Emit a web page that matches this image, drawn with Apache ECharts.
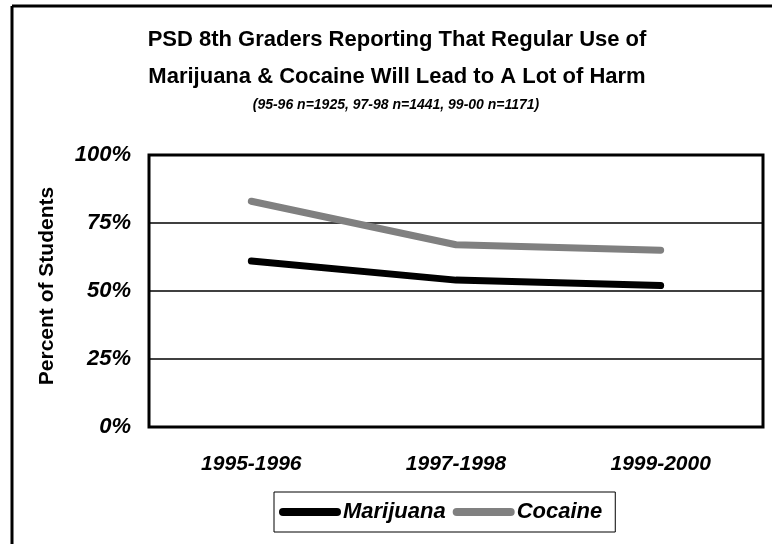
<!DOCTYPE html>
<html><head><meta charset="utf-8">
<script src="https://cdn.jsdelivr.net/npm/echarts@6/dist/echarts.min.js"></script>
<style>html,body{margin:0;padding:0;background:#fff}#c{width:772px;height:544px}</style>
</head><body><div id="c"></div>
<script>
const categories = ['1995-1996', '1997-1998', '1999-2000'];
const marijuana = [61, 54, 52];
const cocaine = [83, 67, 65];
const yTicks = [0, 25, 50, 75, 100];
const titleLine1 = 'PSD 8th Graders Reporting That Regular Use of';
const titleLine2 = 'Marijuana & Cocaine Will Lead to A Lot of Harm';
const subTitle = '(95-96 n=1925, 97-98 n=1441, 99-00 n=1171)';
const yName = 'Percent of Students';

const FF = '"Liberation Sans", Arial, sans-serif';
const legendIcon = 'path://M4,0 H58 A4,4 0 0 1 58,8 H4 A4,4 0 0 1 4,0 Z';
const chart = echarts.init(document.getElementById('c'), null, {renderer: 'canvas'});
chart.setOption({
  backgroundColor: '#fff',
  animation: false,
  graphic: [
    {type: 'line', shape: {x1: 12, y1: 6, x2: 772, y2: 6}, style: {stroke: '#000', lineWidth: 3}},
    {type: 'line', shape: {x1: 12, y1: 6, x2: 12, y2: 544}, style: {stroke: '#000', lineWidth: 3}},
    {type: 'text', x: 397, y: 40, style: {text: titleLine1, fill: '#000', font: 'bold 22px ' + FF, textAlign: 'center', textVerticalAlign: 'middle'}},
    {type: 'text', x: 397, y: 77, style: {text: titleLine2, fill: '#000', font: 'bold 22px ' + FF, textAlign: 'center', textVerticalAlign: 'middle'}},
    {type: 'text', x: 396, y: 105, style: {text: subTitle, fill: '#000', font: 'italic bold 14px ' + FF, textAlign: 'center', textVerticalAlign: 'middle'}},
    {type: 'text', x: 47, y: 286, rotation: Math.PI / 2, style: {text: yName, fill: '#000', font: 'bold 21px ' + FF, textAlign: 'center', textVerticalAlign: 'middle'}}
  ],
  grid: {left: 149, right: 9, top: 155, bottom: 117, show: true, borderColor: '#000', borderWidth: 3, backgroundColor: 'transparent'},
  xAxis: {
    type: 'category', data: categories, boundaryGap: true,
    axisLine: {show: false}, axisTick: {show: false},
    axisLabel: {margin: 27, color: '#000', fontFamily: FF, fontSize: 21, fontWeight: 'bold', fontStyle: 'italic'}
  },
  yAxis: {
    type: 'value', min: 0, max: 100, interval: 25,
    axisLine: {show: false}, axisTick: {show: false},
    splitLine: {lineStyle: {color: '#000', width: 1.5}},
    axisLabel: {margin: 18, color: '#000', fontFamily: FF, fontSize: 22, fontWeight: 'bold', fontStyle: 'italic',
      formatter: v => yTicks.indexOf(v) >= 0 ? v + '%' : ''}
  },
  legend: {
    orient: 'horizontal',
    left: 274, top: 492,
    padding: [9, 13, 9, 5],
    itemGap: 7, itemWidth: 62, itemHeight: 8,
    borderColor: '#000', borderWidth: 1,
    textStyle: {color: '#000', fontFamily: FF, fontSize: 22, fontWeight: 'bold', fontStyle: 'italic', padding: [0, 0, 0, -3]},
    data: [
      {name: 'Marijuana', icon: legendIcon, itemStyle: {color: '#000'}},
      {name: 'Cocaine', icon: legendIcon, itemStyle: {color: '#808080'}}
    ]
  },
  series: [
    {name: 'Marijuana', type: 'line', data: marijuana, showSymbol: false, symbol: 'none', color: '#000',
      lineStyle: {color: '#000', width: 7, cap: 'round', join: 'round'}},
    {name: 'Cocaine', type: 'line', data: cocaine, showSymbol: false, symbol: 'none', color: '#808080',
      lineStyle: {color: '#808080', width: 7, cap: 'round', join: 'round'}}
  ]
});
</script></body></html>
